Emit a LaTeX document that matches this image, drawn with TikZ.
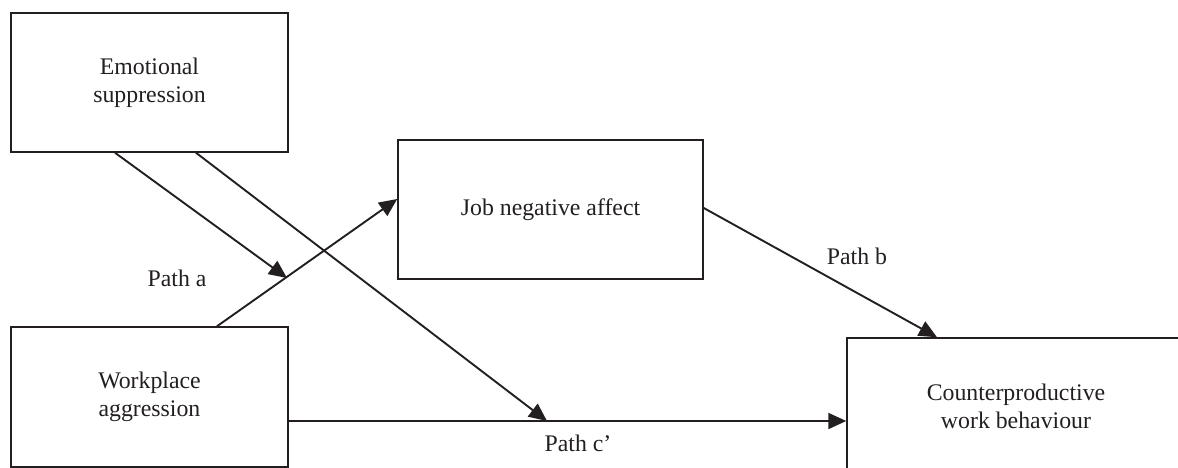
\documentclass[tikz,border=0pt]{standalone}
\usepackage{fontspec}
\setmainfont{Liberation Serif}
\usetikzlibrary{arrows.meta}
\definecolor{ink}{HTML}{231F20}
\begin{document}
\begin{tikzpicture}[x=1pt,y=-1pt,
  box/.style={draw=ink,line width=1.5pt,rectangle,align=center,inner sep=0pt,
    font=\fontsize{23.8}{28}\selectfont,text=ink},
  arr/.style={draw=ink,line width=1.9pt,-{Triangle[length=18pt,width=16pt]}},
  lbl/.style={font=\fontsize{23.8}{28}\selectfont,text=ink,inner sep=0pt}]
\useasboundingbox (0,0) rectangle (1178,468);
\clip (0,0) rectangle (1178,468);
\node[box,minimum width=277pt,minimum height=139pt] (es) at (149.5,82.5) {Emotional\\suppression};
\node[box,minimum width=277pt,minimum height=140pt] (wa) at (149.5,397) {Workplace\\aggression};
\node[box,minimum width=305pt,minimum height=139pt] (jna) at (550.5,209.5) {Job negative affect};
\node[box,minimum width=338pt,minimum height=136pt] (cwb) at (1016,406) {Counterproductive\\work behaviour};
\coordinate (pa) at (287,278);
\coordinate (pc) at (547,421);
\draw[arr] ([xshift=67.5pt]wa.north) -- ([yshift=10.5pt]jna.west);
\draw[arr] ([xshift=-34.5pt]es.south) -- (pa);
\draw[arr] ([xshift=46.5pt]es.south) -- (pc);
\draw[arr] ([yshift=-24pt]wa.east) -- ([yshift=-24pt]wa.east -| cwb.west);
\draw[arr] ([yshift=1.5pt]jna.east) -- ([xshift=-79pt]cwb.north);
\node[lbl] (la) at (177,278) {Path a};
\node[lbl] (lb) at (857,256) {Path b};
\node[lbl] (lc) at (578,443) {Path c’};
\end{tikzpicture}
\end{document}
